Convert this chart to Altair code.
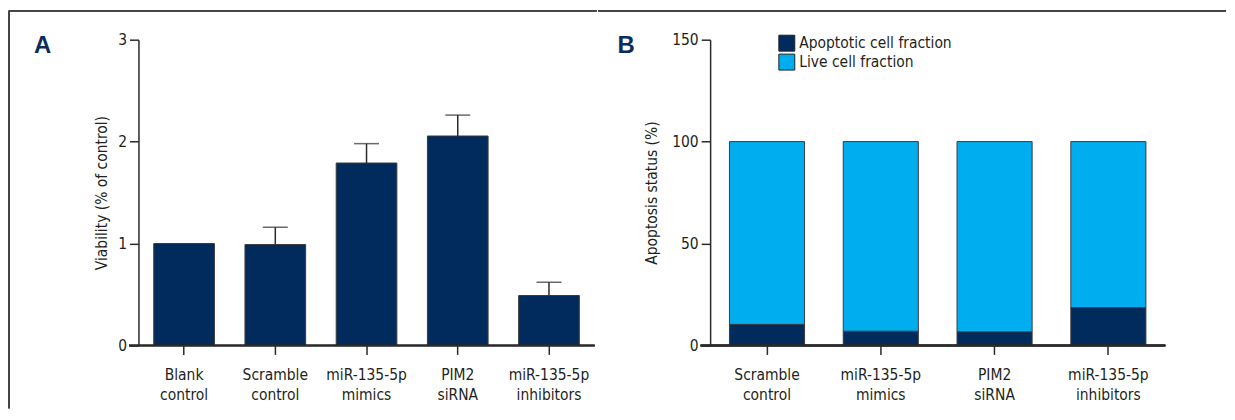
import altair as alt
import pandas as pd

# ---- data ----
cats_a = ["Blank\ncontrol", "Scramble\ncontrol", "miR-135-5p\nmimics", "PIM2\nsiRNA", "miR-135-5p\ninhibitors"]
viability = [1.0, 0.99, 1.79, 2.055, 0.49]
viability_err = [0.0, 0.17, 0.19, 0.205, 0.13]

cats_b = ["Scramble\ncontrol", "miR-135-5p\nmimics", "PIM2\nsiRNA", "miR-135-5p\ninhibitors"]
apoptotic = [10.3, 7.0, 6.7, 18.6]
live = [89.7, 93.0, 93.3, 81.4]
series = ["Apoptotic cell fraction", "Live cell fraction"]

FONT = "DejaVu Sans Condensed"
FS = 15.5
NAVY = "#002b5c"
CYAN = "#00aeef"
AX = "#2a2a2a"
TXT = "#231f20"
W, H = 458, 307

df_a = pd.DataFrame({"cat": cats_a, "v": viability, "e": viability_err})
df_a["top"] = df_a["v"] + df_a["e"]
df_e = df_a[df_a["e"] > 0]

rows = []
for c, a, l in zip(cats_b, apoptotic, live):
    rows.append({"cat": c, "series": series[0], "val": a, "order": 0})
    rows.append({"cat": c, "series": series[1], "val": l, "order": 1})
df_b = pd.DataFrame(rows)

label_expr = "split(datum.label, '\\n')"

def xaxis():
    return alt.Axis(title=None, labelExpr=label_expr, domain=False, ticks=True,
                    tickSize=9, tickWidth=1.5, tickColor=AX, labelAngle=0,
                    labelFont=FONT, labelFontSize=FS, labelColor=TXT,
                    labelPadding=13, labelLineHeight=20, labelLimit=200)

def yaxis(title, values, pad):
    return alt.Axis(title=title, values=values, grid=False, domainColor=AX, domainWidth=1.5,
                    tickColor=AX, tickWidth=1.5, tickSize=9, labelPadding=3, format="d",
                    labelFont=FONT, labelFontSize=FS, labelColor=TXT,
                    titleFont=FONT, titleFontSize=FS, titleColor=TXT,
                    titleFontWeight="normal", titlePadding=pad)

xs_a = alt.Scale(domain=cats_a, paddingInner=0.335, paddingOuter=0.1675)
ys_a = alt.Scale(domain=[0, 3], nice=False)

base_a = alt.Chart(df_a)
bars_a = base_a.mark_bar(color=NAVY, stroke="#3a3a3a", strokeWidth=1).encode(
    x=alt.X("cat:N", sort=cats_a, scale=xs_a, axis=xaxis()),
    y=alt.Y("v:Q", scale=ys_a, axis=yaxis("Viability (% of control)", [0, 1, 2, 3], 8)),
)
err_a = alt.Chart(df_e).mark_rule(color=AX, strokeWidth=1.5).encode(
    x=alt.X("cat:N", sort=cats_a, scale=xs_a),
    y=alt.Y("v:Q", scale=ys_a),
    y2="top:Q",
)
cap_a = alt.Chart(df_e).mark_tick(color=AX, thickness=1.5, size=25).encode(
    x=alt.X("cat:N", sort=cats_a, scale=xs_a),
    y=alt.Y("top:Q", scale=ys_a),
)
xline_a = alt.Chart(df_a).mark_rule(color=AX, strokeWidth=1.5).encode(
    x=alt.value(-9.5), x2=alt.value(W), y=alt.value(H))
frame_top_a = alt.Chart(df_a).mark_rule(color="#444", strokeWidth=1.5).encode(
    x=alt.value(-130), x2=alt.value(W + 2), y=alt.value(-29))
frame_left_a = alt.Chart(df_a).mark_rule(color="#444", strokeWidth=1.5).encode(
    x=alt.value(-130), y=alt.value(-29), y2=alt.value(370))
lab_a = alt.Chart(pd.DataFrame({"t": ["A"]})).mark_text(
    font="Liberation Sans", fontSize=24, fontWeight="bold", color="#0b2d5b",
    align="left", baseline="alphabetic").encode(
    x=alt.value(-105), y=alt.value(13), text="t:N")

panel_a = alt.layer(bars_a, err_a, cap_a, xline_a, frame_top_a, frame_left_a, lab_a).properties(
    width=W, height=H)

xs_b = alt.Scale(domain=cats_b, paddingInner=0.34, paddingOuter=0.17)
ys_b = alt.Scale(domain=[0, 150], nice=False)

bars_b = alt.Chart(df_b).mark_bar(stroke="#3a3a3a", strokeWidth=1).encode(
    x=alt.X("cat:N", sort=cats_b, scale=xs_b, axis=xaxis()),
    y=alt.Y("val:Q", stack="zero", scale=ys_b,
            axis=yaxis("Apoptosis status (%)", [0, 50, 100, 150], 12)),
    color=alt.Color("series:N", scale=alt.Scale(domain=series, range=[NAVY, CYAN]),
                    legend=alt.Legend(title=None, orient="none", legendX=68.5, legendY=-5,
                                      symbolType="square", symbolSize=256,
                                      symbolStrokeColor="#222", symbolStrokeWidth=1,
                                      labelFont=FONT, labelFontSize=FS, labelColor=TXT,
                                      labelOffset=4, rowPadding=-2, labelLimit=300)),
    order=alt.Order("order:Q"),
)
xline_b = alt.Chart(df_b).mark_rule(color=AX, strokeWidth=1.5).encode(
    x=alt.value(-9.5), x2=alt.value(W - 1), y=alt.value(H))
frame_top_b = alt.Chart(df_b).mark_rule(color="#444", strokeWidth=1.5).encode(
    x=alt.value(-112), x2=alt.value(518), y=alt.value(-29))
lab_b = alt.Chart(pd.DataFrame({"t": ["B"]})).mark_text(
    font="Liberation Sans", fontSize=24, fontWeight="bold", color="#0b2d5b",
    align="left", baseline="alphabetic").encode(
    x=alt.value(-93), y=alt.value(13), text="t:N")

panel_b = alt.layer(bars_b, xline_b, frame_top_b, lab_b).properties(width=W - 1, height=H)

chart = alt.hconcat(panel_a, panel_b, spacing=0).resolve_legend(color="independent").properties(
    padding={"left": 0, "top": 1, "right": 0, "bottom": 0}
).configure_view(stroke="transparent", strokeWidth=0)

chart.save("out.html", embed_options={"renderer": "svg", "actions": False})
